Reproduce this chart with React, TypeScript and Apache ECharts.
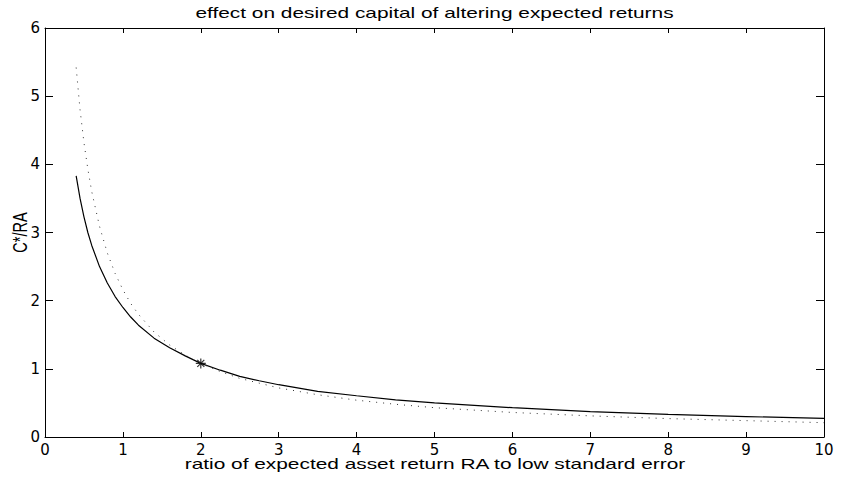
import React, { useEffect, useRef } from "react";
import * as echarts from "echarts";

// ratio of expected asset return RA to low standard error
const xValues = [0.4, 0.45, 0.5, 0.55, 0.6, 0.7, 0.8, 0.9, 1.0, 1.1, 1.2, 1.4, 1.6, 1.8, 2.0, 2.25, 2.5, 2.75, 3, 3.5, 4, 4.5, 5, 6, 7, 8, 9, 10];
// solid curve C*/RA
const solidValues = [3.83, 3.5, 3.23, 3.0, 2.81, 2.5, 2.26, 2.06, 1.9, 1.76, 1.64, 1.45, 1.31, 1.19, 1.08, 0.98, 0.89, 0.825, 0.767, 0.67, 0.605, 0.545, 0.5, 0.43, 0.373, 0.332, 0.3, 0.272];
// dotted curve C*/RA
const dottedValues = [5.42, 4.8, 4.32, 3.93, 3.6, 3.09, 2.7, 2.4, 2.16, 1.96, 1.8, 1.54, 1.35, 1.2, 1.08, 0.96, 0.86, 0.79, 0.72, 0.62, 0.54, 0.48, 0.43, 0.36, 0.31, 0.27, 0.24, 0.21];
// star marker
const markerX = [2];
const markerY = [1.08];

const xMin = 0, xMax = 10, xStep = 1;
const yMin = 0, yMax = 6, yStep = 1;

const titleText = "effect on desired capital of altering expected returns";
const xLabelText = "ratio of expected asset return RA to low standard error";
const yLabelText = "C*/RA";

const zip = (xs: number[], ys: number[]) => xs.map((x, i) => [x, ys[i]]);

export default function App() {
  const ref = useRef<HTMLDivElement>(null);
  useEffect(() => {
    if (!ref.current) return;
    const chart = echarts.init(ref.current, undefined, { renderer: "svg" });
    const axisLine = { show: true, onZero: false, lineStyle: { color: "#000", width: 1 } };
    const label = { color: "#000", fontSize: 15, fontFamily: "DejaVu Sans" };
    chart.setOption({
      animation: false,
      backgroundColor: "#fff",
      grid: { left: 45, right: 20, top: 28, bottom: 40 },
      xAxis: [
        {
          type: "value", min: xMin, max: xMax, interval: xStep, position: "bottom",
          axisLine, axisTick: { show: true, inside: true, length: 5, lineStyle: { color: "#000" } },
          axisLabel: { ...label, margin: 5 }, splitLine: { show: false },
        },
        {
          type: "value", min: xMin, max: xMax, interval: xStep, position: "top",
          axisLine, axisTick: { show: true, inside: true, length: 5, lineStyle: { color: "#000" } },
          axisLabel: { show: false }, splitLine: { show: false },
        },
      ],
      yAxis: [
        {
          type: "value", min: yMin, max: yMax, interval: yStep, position: "left",
          axisLine, axisTick: { show: true, inside: true, length: 8, lineStyle: { color: "#000" } },
          axisLabel: { ...label, margin: 5 }, splitLine: { show: false },
        },
        {
          type: "value", min: yMin, max: yMax, interval: yStep, position: "right",
          axisLine, axisTick: { show: true, inside: true, length: 8, lineStyle: { color: "#000" } },
          axisLabel: { show: false }, splitLine: { show: false },
        },
      ],
      series: [
        {
          type: "line", xAxisIndex: 0, yAxisIndex: 0, data: zip(xValues, solidValues),
          symbol: "none", showSymbol: false, lineStyle: { color: "#000", width: 1.2 },
        },
        {
          type: "line", xAxisIndex: 0, yAxisIndex: 0, data: zip(xValues, dottedValues),
          symbol: "none", showSymbol: false, lineStyle: { color: "#333", width: 1, type: [1, 6] },
        },
        {
          type: "scatter", xAxisIndex: 0, yAxisIndex: 0, data: zip(markerX, markerY),
          symbol: "path://M5,0L5,10M0,5L10,5M1.5,1.5L8.5,8.5M1.5,8.5L8.5,1.5",
          symbolSize: 10,
          itemStyle: { color: "transparent", borderColor: "#000", borderWidth: 1.2 },
        },
      ],
      graphic: [
        {
          type: "text", x: 434.5, y: 13, scaleX: 1.39,
          style: { text: titleText, fontSize: 15, fontFamily: "Liberation Sans", fill: "#000", align: "center", verticalAlign: "middle" },
        },
        {
          type: "text", x: 435, y: 464, scaleX: 1.39,
          style: { text: xLabelText, fontSize: 15, fontFamily: "Liberation Sans", fill: "#000", align: "center", verticalAlign: "middle" },
        },
        {
          type: "text", x: 20, y: 232.5, rotation: Math.PI / 2, scaleY: 1.39,
          style: { text: yLabelText, fontSize: 14.5, fontFamily: "Liberation Sans", fill: "#000", align: "center", verticalAlign: "middle" },
        },
      ],
    });
    return () => chart.dispose();
  }, []);
  return (
    <div
      ref={ref}
      style={{ position: "fixed", left: 0, top: 0, width: 844, height: 477, background: "#fff" }}
    />
  );
}
